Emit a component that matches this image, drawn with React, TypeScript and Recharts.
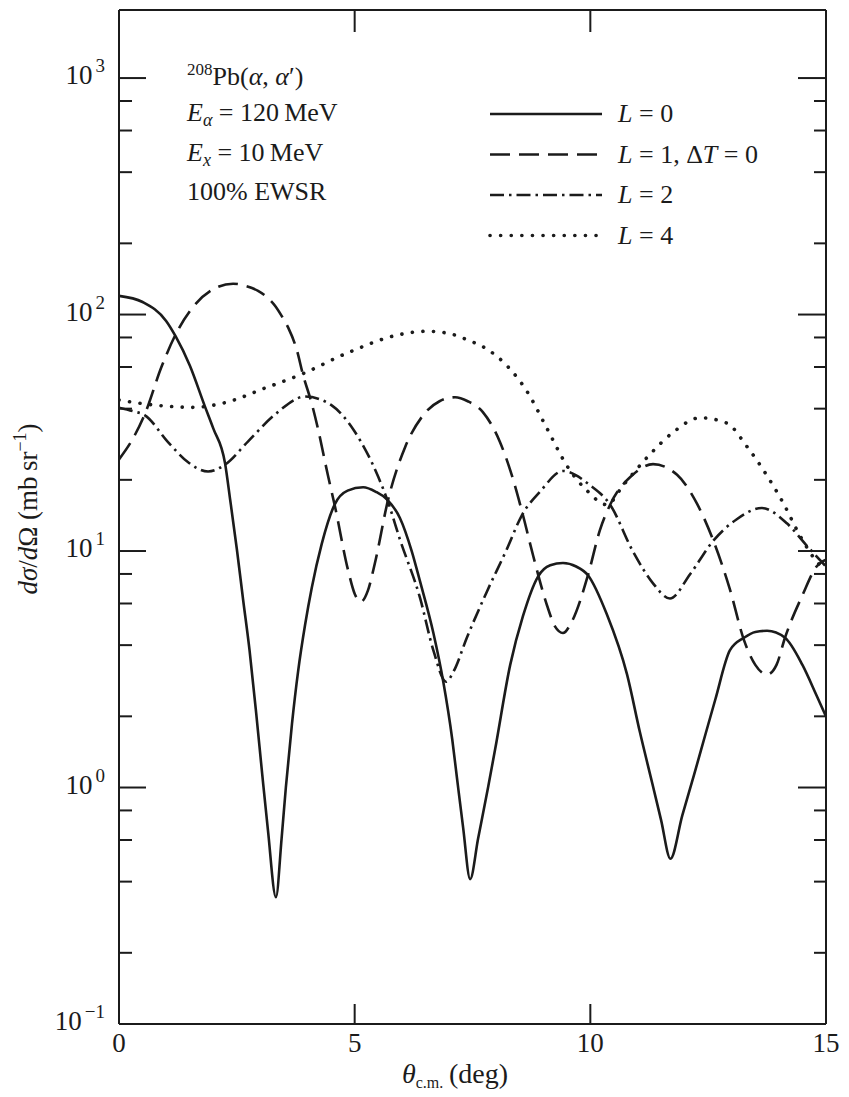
import React from 'react';
import { LineChart, Line, XAxis, YAxis, Legend } from 'recharts';

// ---------- data ----------
const THETA_L0 = [0, 0.5, 1.0, 1.2, 1.5, 1.82, 2.0, 2.25, 2.36, 2.5, 2.63, 2.77, 2.91, 3.04, 3.16, 3.33, 3.45, 3.54, 3.67, 3.8, 3.95, 4.09, 4.3, 4.58, 4.85, 5.18, 5.45, 5.69, 5.96, 6.21, 6.39, 6.67, 6.88, 7.07, 7.17, 7.3, 7.45, 7.62, 7.83, 7.98, 8.3, 8.57, 8.89, 9.15, 9.42, 9.7, 9.95, 10.35, 10.78, 11.05, 11.31, 11.5, 11.7, 11.95, 12.2, 12.45, 12.65, 12.96, 13.26, 13.5, 13.75, 14.13, 14.5, 14.8, 15];
const SIGMA_L0 = [120, 113, 94, 81, 61, 41, 33, 23.5, 16.4, 10.2, 6.3, 3.8, 2.07, 1.13, 0.66, 0.344, 0.61, 1.0, 1.86, 3.1, 4.9, 7.0, 10.7, 15.8, 18, 18.6, 17.8, 16.5, 13.8, 10, 7.4, 4.5, 2.8, 1.6, 1.1, 0.68, 0.41, 0.61, 1.0, 1.45, 3.3, 5.3, 7.8, 8.7, 8.9, 8.6, 7.9, 5.4, 3.0, 1.72, 1.05, 0.73, 0.5, 0.76, 1.13, 1.7, 2.35, 3.8, 4.3, 4.55, 4.6, 4.3, 3.3, 2.45, 2.0];

const THETA_L1 = [0, 0.3, 0.55, 0.9, 1.19, 1.61, 1.97, 2.42, 2.7, 2.95, 3.15, 3.31, 3.46, 3.59, 3.78, 3.9, 4.09, 4.22, 4.43, 4.58, 4.86, 5.0, 5.13, 5.28, 5.43, 5.71, 6.07, 6.43, 6.8, 7.13, 7.4, 7.72, 8.08, 8.3, 8.55, 8.79, 9.08, 9.25, 9.42, 9.6, 9.95, 10.2, 10.42, 10.9, 11.33, 11.84, 12.26, 12.6, 12.96, 13.26, 13.5, 13.75, 13.95, 14.13, 14.5, 14.8, 15];
const SIGMA_L1 = [24.4, 30, 38, 60, 81.5, 110, 127, 135, 132, 126, 118, 109, 98, 88, 70, 56, 42, 33, 21, 15.5, 8.3, 6.6, 6.1, 6.8, 8.9, 16.5, 27.5, 37, 43, 44.7, 43, 38.7, 29, 22, 14.7, 9.5, 5.9, 4.8, 4.5, 5.0, 7.9, 12.2, 15.7, 21, 23.3, 21, 15.9, 11.2, 6.9, 4.2, 3.3, 3.0, 3.3, 4.3, 6.5, 8.6, 9.2];

const THETA_L2 = [0, 0.3, 0.55, 1.04, 1.46, 1.89, 2.25, 2.74, 3.31, 3.95, 4.52, 5.0, 5.5, 5.69, 5.96, 6.39, 6.67, 6.94, 7.1, 7.38, 7.8, 8.23, 8.55, 8.93, 9.42, 9.99, 10.42, 10.9, 11.33, 11.69, 12.12, 12.6, 13.1, 13.64, 14.17, 14.6, 15];
const SIGMA_L2 = [40.4, 39, 37.5, 28.9, 23.8, 21.7, 23.2, 29.1, 37.8, 45, 41.2, 32, 20.6, 16.5, 11.2, 6.3, 3.8, 2.8, 3.1, 4.3, 6.7, 10.2, 14.2, 17.8, 21.8, 19, 15.7, 10, 7.3, 6.3, 8, 11, 13.6, 15.2, 13.1, 10.5, 8.6];

const THETA_L4 = [0, 0.5, 1.0, 1.55, 2.25, 3.1, 3.88, 4.86, 5.92, 6.53, 7.02, 7.4, 7.8, 8.23, 8.66, 9.08, 9.5, 9.93, 10.35, 10.7, 11.27, 11.75, 12.33, 12.9, 13.32, 13.75, 14.09, 14.45, 14.83, 15];
const SIGMA_L4 = [43.5, 42, 41, 40.5, 42.4, 48.9, 56, 69, 82, 85, 83, 78, 71.6, 60.8, 47.2, 33, 23, 18, 15.7, 19, 25.7, 31.7, 36.6, 34.7, 27.7, 20.8, 16, 11.6, 8.9, 8.3];

const X_TICKS = [0, 5, 10, 15];
const X_INNER_TICKS = [5, 10];
const Y_MAJOR = [0.1, 1, 10, 100, 1000];
const Y_MAJOR_LABELS = ['\u22121', '0', '1', '2', '3'];
const Y_MINOR_MULT = [2, 4, 6, 8];

const LEGEND_LABELS = ['L = 0', 'L = 1, \u0394T = 0', 'L = 2', 'L = 4'];

// ---------- layout / style ----------
const W = 849;
const H = 1097;
const PLOT = { left: 119, right: 826, top: 10, bottom: 1024 };
const FONT = '"Liberation Serif", "DejaVu Serif", serif';
const INK = '#1b1b1b';

const zip = (t: number[], s: number[]) => t.map((theta, i) => ({ theta, sigma: s[i] }));

const STYLES = [
  { dash: undefined as string | undefined, width: 2.6, cap: 'butt' },
  { dash: '20 9', width: 2.6, cap: 'butt' },
  { dash: '14 5 2.5 5', width: 2.6, cap: 'butt' },
  { dash: '0.1 10.5', width: 3.6, cap: 'round' },
];

const SERIES = [
  { key: 'L0', data: zip(THETA_L0, SIGMA_L0) },
  { key: 'L1', data: zip(THETA_L1, SIGMA_L1) },
  { key: 'L2', data: zip(THETA_L2, SIGMA_L2) },
  { key: 'L4', data: zip(THETA_L4, SIGMA_L4) },
];

const Y_TICKS = [
  ...Y_MAJOR,
  ...Y_MAJOR.slice(0, 4).flatMap((d) => Y_MINOR_MULT.map((m) => Number((m * d).toPrecision(3)))),
].sort((a, b) => a - b);

const isMajor = (v: number) => Y_MAJOR.some((m) => Math.abs(m - v) / m < 1e-6);
const majorLabel = (v: number) => Y_MAJOR_LABELS[Y_MAJOR.findIndex((m) => Math.abs(m - v) / m < 1e-6)];

const LeftTick = (props: any) => {
  const { y, payload } = props;
  const v = payload.value;
  const major = isMajor(v);
  return (
    <g>
      <line x1={PLOT.left} x2={PLOT.left + (major ? 27 : 13)} y1={y} y2={y} stroke={INK} strokeWidth={2} />
      {major && (
        <text x={105} y={y + 6} textAnchor="end" fontFamily={FONT} fontSize={27} fill={INK}>
          10
          <tspan dx={3} dy={-12} fontSize={19}>{majorLabel(v)}</tspan>
        </text>
      )}
    </g>
  );
};

const RightTick = (props: any) => {
  const { y, payload } = props;
  const major = isMajor(payload.value);
  return (
    <line x1={PLOT.right - (major ? 28 : 12)} x2={PLOT.right} y1={y} y2={y} stroke={INK} strokeWidth={2} />
  );
};

const BottomTick = (props: any) => {
  const { x, payload } = props;
  const v = payload.value;
  const inner = X_INNER_TICKS.includes(v);
  return (
    <g>
      {inner && <line x1={x} x2={x} y1={PLOT.bottom} y2={PLOT.bottom - 20} stroke={INK} strokeWidth={2} />}
      <text x={x} y={PLOT.bottom + 28} textAnchor="middle" fontFamily={FONT} fontSize={27} fill={INK}>
        {v}
      </text>
    </g>
  );
};

const TopTick = (props: any) => {
  const { x } = props;
  return <line x1={x} x2={x} y1={PLOT.top} y2={PLOT.top + 22} stroke={INK} strokeWidth={2} />;
};

const LegendContent = () => (
  <svg width={370} height={160} style={{ overflow: 'visible' }}>
    {LEGEND_LABELS.map((label, i) => {
      const cy = 14 + i * 40.5;
      const st = STYLES[i];
      const parts = label.split(/(L|T)/);
      return (
        <g key={label}>
          <line x1={10} x2={122} y1={cy} y2={cy} stroke={INK} strokeWidth={st.width} strokeDasharray={st.dash} strokeLinecap={st.cap as any} />
          <text x={138} y={cy + 8} fontFamily={FONT} fontSize={26} fill={INK}>
            {parts.map((p, j) =>
              p === 'L' || p === 'T' ? (
                <tspan key={j} fontStyle="italic">{p}</tspan>
              ) : (
                <tspan key={j}>{p}</tspan>
              )
            )}
          </text>
        </g>
      );
    })}
  </svg>
);

export default function App() {
  const ys = [85, 121, 161, 200];
  return (
    <div style={{ position: 'absolute', left: 0, top: 0, width: W, height: H, background: '#fff' }}>
      <LineChart width={W} height={H} margin={{ top: 0, right: 0, bottom: 0, left: 0 }}>
        <XAxis
          dataKey="theta"
          type="number"
          domain={[0, 15]}
          ticks={X_TICKS}
          interval={0}
          allowDataOverflow
          height={H - PLOT.bottom}
          axisLine={{ stroke: INK, strokeWidth: 2 }}
          tickLine={false}
          tick={(p: any) => <BottomTick {...p} />}
        />
        <XAxis
          xAxisId="top"
          orientation="top"
          dataKey="theta"
          type="number"
          domain={[0, 15]}
          ticks={X_INNER_TICKS}
          interval={0}
          allowDataOverflow
          height={PLOT.top}
          axisLine={{ stroke: INK, strokeWidth: 2 }}
          tickLine={false}
          tick={(p: any) => <TopTick {...p} />}
        />
        <YAxis
          type="number"
          scale="log"
          domain={[0.1, 1940]}
          ticks={Y_TICKS}
          interval={0}
          allowDataOverflow
          width={PLOT.left}
          axisLine={{ stroke: INK, strokeWidth: 2 }}
          tickLine={false}
          tick={(p: any) => <LeftTick {...p} />}
        />
        <YAxis
          yAxisId="right"
          orientation="right"
          type="number"
          scale="log"
          domain={[0.1, 1940]}
          ticks={Y_TICKS}
          interval={0}
          allowDataOverflow
          width={W - PLOT.right}
          axisLine={{ stroke: INK, strokeWidth: 2 }}
          tickLine={false}
          tick={(p: any) => <RightTick {...p} />}
        />
        {SERIES.map((s, i) => (
          <Line
            key={s.key}
            data={s.data}
            dataKey="sigma"
            name={LEGEND_LABELS[i]}
            type="monotone"
            stroke={INK}
            strokeWidth={STYLES[i].width}
            strokeDasharray={STYLES[i].dash}
            strokeLinecap={STYLES[i].cap as any}
            dot={false}
            activeDot={false}
            isAnimationActive={false}
          />
        ))}
        <Legend
          layout="vertical"
          align="center"
          verticalAlign="middle"
          wrapperStyle={{ position: 'absolute', left: 480, top: 100, width: 370, height: 160 }}
          content={() => <LegendContent />}
        />
      </LineChart>
      <svg
        width={W}
        height={H}
        style={{ position: 'absolute', left: 0, top: 0, pointerEvents: 'none' }}
        fontFamily={FONT}
        fill={INK}
      >
        <text x={187} y={ys[0]} fontSize={26}>
          <tspan fontSize={17} dy={-10}>208</tspan>
          <tspan dy={10}>Pb(</tspan>
          <tspan fontStyle="italic">{'\u03b1'}</tspan>
          <tspan>, </tspan>
          <tspan fontStyle="italic">{'\u03b1'}</tspan>
          <tspan>{'\u2032)'}</tspan>
        </text>
        <text x={187} y={ys[1]} fontSize={26}>
          <tspan fontStyle="italic">E</tspan>
          <tspan fontStyle="italic" fontSize={18} dy={5}>{'\u03b1'}</tspan>
          <tspan dy={-5}>{' = 120\u2009MeV'}</tspan>
        </text>
        <text x={187} y={ys[2]} fontSize={26}>
          <tspan fontStyle="italic">E</tspan>
          <tspan fontStyle="italic" fontSize={18} dy={5}>x</tspan>
          <tspan dy={-5}>{' = 10\u2009MeV'}</tspan>
        </text>
        <text x={187} y={ys[3]} fontSize={26}>100% EWSR</text>

        <text transform="translate(37,509) rotate(-90)" textAnchor="middle" fontSize={27}>
          <tspan fontStyle="italic">{'d\u03c3'}</tspan>
          <tspan>/</tspan>
          <tspan fontStyle="italic">d</tspan>
          <tspan>{'\u03a9 (mb\u2009sr'}</tspan>
          <tspan fontSize={18} dy={-11}>{'\u22121'}</tspan>
          <tspan dy={11}>)</tspan>
        </text>

        <text x={455} y={1083} textAnchor="middle" fontSize={28}>
          <tspan fontStyle="italic">{'\u03b8'}</tspan>
          <tspan fontSize={16} dy={5}>c.m.</tspan>
          <tspan dy={-5}>{'\u2009(deg)'}</tspan>
        </text>
      </svg>
    </div>
  );
}
